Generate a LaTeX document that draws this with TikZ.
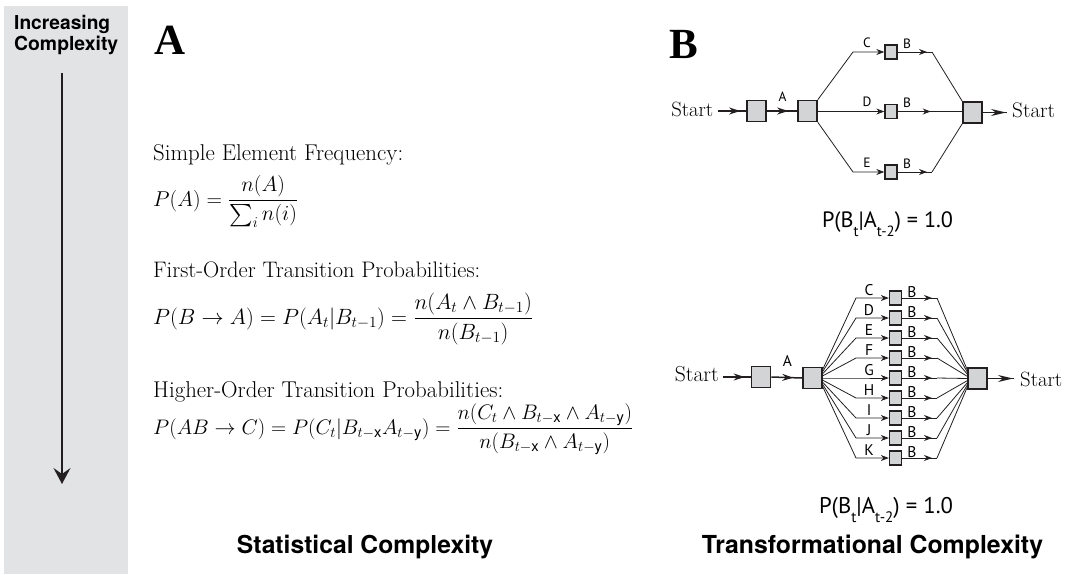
\documentclass[tikz,border=0pt]{standalone}
\usepackage{fix-cm}
\usepackage{amsmath}
\usepackage{graphicx}
\usepackage{fontspec}
\setsansfont{TeX Gyre Heros}
\newfontfamily\labfont{PT Sans}
\newfontfamily\headfont{Liberation Serif}
\usetikzlibrary{arrows.meta,decorations.markings,calc}
\definecolor{panelgray}{HTML}{E2E3E5}
\definecolor{boxfill}{HTML}{D3D4D6}
\definecolor{ink}{HTML}{231F20}

\tikzset{
  bigbox/.style={draw=ink, fill=boxfill, line width=1.6pt, minimum width=19pt, minimum height=21pt, inner sep=0pt},
  smallbox/.style={draw=ink, fill=boxfill, line width=1.4pt, minimum width=12pt, minimum height=14pt, inner sep=0pt},
  wire/.style={draw=ink, line width=0.8pt},
  thickwire/.style={draw=ink, line width=1.5pt},
  tipend/.style={-{Stealth[length=8pt,width=6pt]}},
  tipat/.style={postaction={decorate}, decoration={markings, mark=at position #1 with {\arrow{Stealth[length=8pt,width=6pt]}}}},
  thicktipat/.style={postaction={decorate}, decoration={markings, mark=at position #1 with {\arrow{Stealth[length=11pt,width=7pt]}}}},
  longtipat/.style={postaction={decorate}, decoration={markings, mark=at position #1 with {\arrow{Stealth[length=15pt,width=7pt]}}}},
  startlbl/.style={inner sep=0pt, font=\fontsize{22}{26}\selectfont},
  uplab/.style={inner sep=0pt, anchor=south, font=\labfont\fontsize{13.5}{13.5}\selectfont},
  lowlab/.style={inner sep=0pt, anchor=south, font=\labfont\fontsize{15.5}{15.5}\selectfont},
  eqlbl/.style={inner sep=0pt, anchor=base, font=\labfont\fontsize{19.5}{22}\selectfont},
  bodytext/.style={inner sep=0pt, anchor=base west, font=\fontsize{20}{24}\selectfont},
  caption/.style={inner sep=0pt, anchor=base, font=\sffamily\bfseries\fontsize{24.5}{28}\selectfont},
  sidehead/.style={inner sep=0pt, anchor=base west, font=\sffamily\bfseries\fontsize{19.6}{22}\selectfont},
  panelletter/.style={inner sep=0pt, anchor=base west, font=\headfont\bfseries\fontsize{43}{43}\selectfont},
  bigarrow/.style={draw=ink, line width=1.6pt, -{Stealth[length=16pt,width=17pt,inset=6pt]}}
}
% set a text to an exact printed width
\newcommand{\fitw}[2]{\resizebox{#1}{!}{#2}}
\newcommand{\lowsub}[1]{\raisebox{-0.42em}{\fontsize{13}{13}\selectfont #1}}

\begin{document}
\begin{tikzpicture}[x=1pt, y=-1pt]
\useasboundingbox (0,0) rectangle (1073,574);

% side panel
\fill[panelgray] (4,6) rectangle (128,574);
\node[sidehead] (inc1) at (14,29) {\fitw{96pt}{Increasing}};
\node[sidehead] (inc2) at (14,50) {\fitw{104pt}{Complexity}};
\coordinate (atop) at (62,73);
\coordinate (abot) at (62,484);
\draw[bigarrow] (atop) -- (abot);

% panel letters
\node[panelletter] (lA) at (154,54) {A};
\node[panelletter] (lB) at (669,58) {B};

% formulas
\node[bodytext] (t1) at (153,160) {\fitw{250pt}{Simple Element Frequency:}};
\node[bodytext] (f1) at (153,206) {\fitw{145pt}{$\displaystyle P(A) = \frac{n(A)}{\sum_i n(i)}$}};
\node[bodytext] (t2) at (153,277) {\fitw{327pt}{First-Order Transition Probabilities:}};
\node[bodytext] (f2) at (153,324) {\fitw{380pt}{$\displaystyle P(B \rightarrow A) = P(A_t|B_{t-1}) = \frac{n(A_t \wedge B_{t-1})}{n(B_{t-1})}$}};
\node[bodytext] (t3) at (153,397) {\fitw{350pt}{Higher-Order Transition Probabilities:}};
\node[bodytext] (f3) at (153,434) {\fitw{480pt}{$\displaystyle P(AB \rightarrow C) = P(C_t|B_{t-\mathsf{x}}A_{t-\mathsf{y}}) = \frac{n(C_t \wedge B_{t-\mathsf{x}} \wedge A_{t-\mathsf{y}})}{n(B_{t-\mathsf{x}} \wedge A_{t-\mathsf{y}})}$}};

% captions
\node[caption] (capA) at (365,553) {\fitw{256pt}{Statistical Complexity}};
\node[caption] (capB) at (872.5,553) {\fitw{341pt}{Transformational Complexity}};

% ---------- upper graph ----------
\node[startlbl, anchor=east] (uSL) at (713.5,109) {\fitw{42pt}{Start}};
\node[startlbl, anchor=west] (uSR) at (1012,110.5) {\fitw{43pt}{Start}};
\node[bigbox] (U1) at (756.5,111) {};
\node[bigbox] (U2) at (807.5,111) {};
\node[bigbox] (UR) at (972.5,112.5) {};
\node[smallbox] (UC) at (891,52) {};
\node[smallbox] (UD) at (891,111.5) {};
\node[smallbox] (UE) at (891,172) {};
\coordinate (uc1) at (853,52);
\coordinate (uc2) at (932,52);
\coordinate (ue1) at (853,172);
\coordinate (ue2) at (932,172);

\draw[thickwire, thicktipat=-6pt] ($(uSL.east)+(4,2)$) -- (U1.west);
\draw[thickwire, thicktipat=-9pt] (U1.east) -- (U2.west);
\draw[thickwire, longtipat=-1pt] (UR.east) -- ($(uSR.west)+(-5,2)$);

\draw[wire, tipend] (U2.north east) -- (uc1) -- (UC.west);
\draw[wire, tipend] (U2.east |- UD) -- (UD.west);
\draw[wire, tipend] (U2.south east) -- (ue1) -- (UE.west);
\draw[wire, tipat=-5pt] (UC.east) -- (uc2);
\draw[wire] (uc2) -- (UR.north west);
\draw[wire, tipat=33pt] (UD.east) -- (UR.west |- UD);
\draw[wire, tipat=-5pt] (UE.east) -- (ue2);
\draw[wire] (ue2) -- (UR.south west);

\node[uplab] (uA) at (782.5,102) {A};
\node[uplab] (uCl) at (867,48) {C};
\node[uplab] (uDl) at (867,107) {D};
\node[uplab] (uEl) at (867,168) {E};
\node[uplab] (uB1) at (907,49) {B};
\node[uplab] (uB2) at (907,108) {B};
\node[uplab] (uB3) at (907,169) {B};

\node[eqlbl] (eqU) at (887.5,227) {\fitw{131pt}{P(B\lowsub{t}|A\lowsub{t-2}) = 1.0}};

% ---------- lower graph ----------
\node[startlbl, anchor=east] (lSL) at (719,374.5) {\fitw{44pt}{Start}};
\node[startlbl, anchor=west] (lSR) at (1020,379.5) {\fitw{42pt}{Start}};
\node[bigbox] (L1) at (761,377) {};
\node[bigbox] (L2) at (812.5,378) {};
\node[bigbox] (LR) at (977.5,378.5) {};

\draw[thickwire, thicktipat=-6pt] ($(lSL.east)+(4,2.5)$) -- (L1.west);
\draw[thickwire, thicktipat=-9pt] (L1.east) -- (L2.west);
\draw[thickwire, longtipat=-1pt] (LR.east) -- ($(lSR.west)+(-6,-1)$);
\node[lowlab] (lA) at (787.5,367) {A};

\foreach \l [count=\k from 0] in {C,D,E,F,G,H,I,J,K} {
  \pgfmathsetmacro\yy{298+20*\k}
  \pgfmathsetmacro\off{(\k-4)*2.2}
  \node[smallbox] (s\l) at (895.5,\yy) {};
  \coordinate (p\l) at (856,\yy);
  \coordinate (q\l) at (937,\yy);
  \coordinate (a\l) at ($(L2.east)+(0,\off)$);
  \coordinate (b\l) at ($(LR.west)+(0,\off)$);
  \draw[wire, tipend] (a\l) -- (p\l) -- (s\l.west);
  \draw[wire, tipat=-5pt] (s\l.east) -- (q\l);
  \draw[wire] (q\l) -- (b\l);
  \node[lowlab] (n\l) at (869,\yy-2.5) {\l};
  \node[lowlab] (m\l) at (912,\yy-0.5) {B};
}

\node[eqlbl] (eqL) at (886,513) {\fitw{134pt}{P(B\lowsub{t}|A\lowsub{t-2}) = 1.0}};
\end{tikzpicture}
\end{document}
